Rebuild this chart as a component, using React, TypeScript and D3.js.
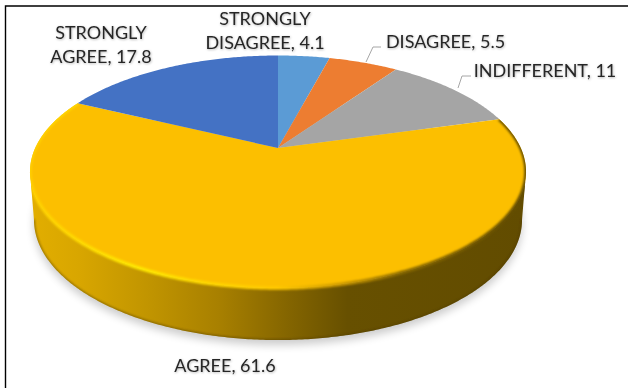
import React from "react";
import * as d3 from "d3";

const categories = ["STRONGLY DISAGREE", "DISAGREE", "INDIFFERENT", "AGREE", "STRONGLY AGREE"];
const values = [4.1, 5.5, 11, 61.6, 17.8];
const colors = ["#5b9bd5", "#ed7d31", "#a5a5a5", "#fcbf00", "#4472c4"];

const labelLines = [
  ["STRONGLY", "DISAGREE, 4.1"],
  ["DISAGREE, 5.5"],
  ["INDIFFERENT, 11"],
  ["AGREE, 61.6"],
  ["STRONGLY", "AGREE, 17.8"],
];
const labelAnchors = [
  [265, 19],
  [445.5, 42],
  [545, 71],
  [225, 366],
  [101, 33],
];
const leaders: ([number, number][] | null)[] = [
  null,
  [[366, 62], [373, 47], [381, 47]],
  [[458, 88], [462, 76], [471, 76]],
  null,
  null,
];

const width = 628;
const height = 388;

// Perspective disc: a unit circle tilted away from the viewer and projected on screen.
const tilt = 0.2043;
const cx = 278;
type Plane = { y0: number; a: number; b: number };
const topPlane: Plane = { y0: 148, a: 242.8, b: 111.4 };
const basePlane: Plane = { y0: 195, a: 238.9, b: 115.4 };

const project = (p: Plane, theta: number): [number, number] => {
  const u = Math.sin(theta);
  const v = -Math.cos(theta);
  const w = 1 - tilt * v;
  return [cx + (p.a * u) / w, p.y0 + (p.b * v) / w];
};

const rimPoints = (p: Plane, from: number, to: number): [number, number][] => {
  const n = Math.max(2, Math.ceil(Math.abs(to - from) / 0.01));
  return d3.range(n + 1).map((i) => project(p, from + ((to - from) * i) / n));
};

const line = d3.line<[number, number]>();
const arcs = d3.pie<number>().sort(null).startAngle(0).endAngle(2 * Math.PI)(values);

// The wall is visible between the two points where the rim turns back horizontally.
const edgeAngle = Math.acos(-tilt);
const wallPath =
  line([
    ...rimPoints(topPlane, edgeAngle, 2 * Math.PI - edgeAngle),
    ...rimPoints(basePlane, 2 * Math.PI - edgeAngle, edgeAngle),
  ]) + "Z";
const basePath = line(rimPoints(basePlane, 0, 2 * Math.PI)) + "Z";
const baseFront = line(rimPoints(basePlane, edgeAngle, 2 * Math.PI - edgeAngle)) ?? "";
const topPath = line(rimPoints(topPlane, 0, 2 * Math.PI)) + "Z";

const agree = arcs[3];
const bevelPath = line(rimPoints(topPlane, agree.startAngle, agree.endAngle)) ?? "";

const wallStops = [
  [0.0, "#e2ae00"],
  [0.1, "#d8a600"],
  [0.25, "#bf9300"],
  [0.38, "#a88000"],
  [0.52, "#846500"],
  [0.64, "#675000"],
  [1, "#624c00"],
];
const bevelStops = [
  [0.0, "#ffcf00"],
  [0.14, "#ffdf00"],
  [0.22, "#ffea00"],
  [0.35, "#ffd800"],
  [0.5, "#ffc800"],
  [0.62, "#d09c00"],
  [0.75, "#8a6a00"],
  [1, "#634c00"],
];

export default function App() {
  return (
    <svg
      width={width}
      height={height}
      viewBox={`0 0 ${width} ${height}`}
      style={{ position: "absolute", left: 0, top: 0, background: "#fff" }}
      fontFamily="Lato, 'Open Sans', sans-serif"
    >
      <defs>
        <linearGradient id="wall" gradientUnits="userSpaceOnUse" x1={30} x2={526} y1={0} y2={0}>
          {wallStops.map(([o, c]) => (
            <stop key={o} offset={o} stopColor={c as string} />
          ))}
        </linearGradient>
        <linearGradient id="bevel" gradientUnits="userSpaceOnUse" x1={30} x2={526} y1={0} y2={0}>
          {bevelStops.map(([o, c]) => (
            <stop key={o} offset={o} stopColor={c as string} />
          ))}
        </linearGradient>
        <filter id="soft" x="-5%" y="-5%" width="110%" height="110%">
          <feGaussianBlur stdDeviation={1.2} />
        </filter>
        <filter id="edge" x="-5%" y="-5%" width="110%" height="110%">
          <feGaussianBlur stdDeviation={0.8} />
        </filter>
        <filter id="drop" x="-10%" y="-10%" width="120%" height="120%">
          <feGaussianBlur stdDeviation={4} />
        </filter>
        <filter id="labelShadow" x="-10%" y="-20%" width="120%" height="150%">
          <feDropShadow dx={0.6} dy={0.8} stdDeviation={0.8} floodColor="#000" floodOpacity={0.3} />
        </filter>
        <clipPath id="discClip">
          <path d={topPath} />
          <path d={wallPath} />
        </clipPath>
        <clipPath id="wallClip">
          <path d={wallPath} />
        </clipPath>
      </defs>

      {/* Panel edge */}
      <path d={`M5.5 ${height}V6H${width}`} fill="none" stroke="#000" strokeWidth={1.4} />

      {/* Cast shadow under the disc */}
      <path d={basePath} fill="#000" opacity={0.2} filter="url(#drop)" transform="translate(0,5)" />

      <path d={wallPath} fill="url(#wall)" />

      {/* Darker lower lip of the wall */}
      <g clipPath="url(#wallClip)">
        <path d={baseFront} fill="none" stroke="#4a3900" strokeOpacity={0.55} strokeWidth={2} filter="url(#edge)" />
      </g>

      {arcs.map((a, i) => (
        <path
          key={categories[i]}
          d={
            line([
              [cx, topPlane.y0],
              ...rimPoints(topPlane, a.startAngle, a.endAngle),
            ]) + "Z"
          }
          fill={colors[i]}
        />
      ))}

      {/* Rounded rim highlight on the front slice */}
      <g clipPath="url(#discClip)">
        <path d={bevelPath} fill="none" stroke="url(#bevel)" strokeWidth={3.5} filter="url(#soft)" />
      </g>

      {leaders.map((pts, i) =>
        pts ? (
          <path key={i} d={line(pts) ?? ""} fill="none" stroke="#a6a6a6" strokeWidth={1} />
        ) : null
      )}

      <g fill="#262626" fontSize={18} textAnchor="middle" filter="url(#labelShadow)">
        {labelLines.map((rows, i) => {
          const [x, y] = labelAnchors[i];
          return rows.map((row, r) => (
            <text key={row} x={x} y={y + r * 24} dy="0.35em">
              {row}
            </text>
          ));
        })}
      </g>
    </svg>
  );
}
